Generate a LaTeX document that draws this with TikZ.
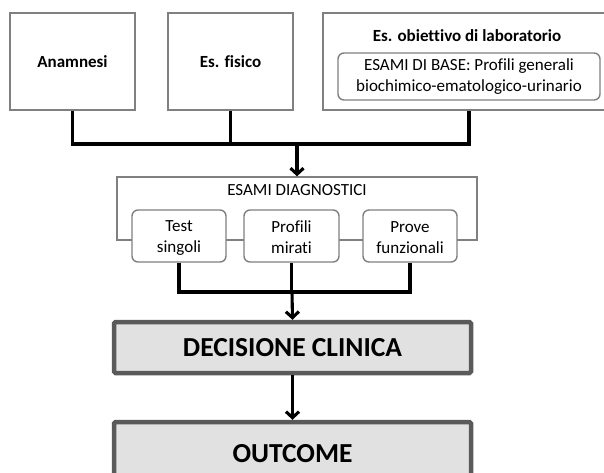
\documentclass[tikz,border=0pt]{standalone}
\usepackage{fontspec}
\setmainfont{Carlito}[Ligatures=NoCommon]
\usetikzlibrary{arrows.meta}
\definecolor{boxgray}{HTML}{808080}
\definecolor{decfill}{HTML}{E1E1E1}
\definecolor{decdraw}{HTML}{5A5A5A}
\begin{document}
\begin{tikzpicture}[x=1pt,y=-1pt,
  thinbox/.style={draw=boxgray, line width=1.4pt, fill=white, inner sep=0pt, align=center,
    font=\fontsize{17}{21}\selectfont},
  roundbox/.style={thinbox, rounded corners=6pt},
  bigbox/.style={draw=decdraw, fill=decfill, line width=4.5pt, rounded corners=1.5pt, inner sep=0pt,
    font=\fontsize{27.5}{32}\selectfont\bfseries},
  lbl/.style={inner sep=0pt, font=\fontsize{17}{21}\selectfont},
  conn/.style={line width=3.1pt, black},
  arr/.style={conn, -{Straight Barb[length=6pt,width=13pt]}}
]
\useasboundingbox (0,0) rectangle (604,472);
% top row
\node[thinbox, minimum width=125pt, minimum height=97pt, font=\fontsize{17}{21}\selectfont\bfseries] (anam) at (72.5,61.5) {Anamnesi};
\node[thinbox, minimum width=125pt, minimum height=97pt, font=\fontsize{17}{21}\selectfont\bfseries] (fis) at (230.5,61.5) {Es. fisico};
\node[thinbox, minimum width=285pt, minimum height=97pt] (lab) at (465.5,61.5) {};
\node[lbl, font=\fontsize{17}{21}\selectfont\bfseries] (labt) at (467,36) {Es. obiettivo di laboratorio};
\node[roundbox, minimum width=262pt, minimum height=47pt] (base) at (469,76.5) {ESAMI DI BASE: Profili generali\\biochimico-ematologico-urinario};
% middle
\coordinate (J) at (297,144);
\node[draw=boxgray, line width=1.4pt, minimum width=360pt, minimum height=63pt, inner sep=0pt] (diag) at (297,208.5) {};
\node[lbl] (diagt) at (297,190) {ESAMI DIAGNOSTICI};
\node[roundbox, minimum width=94pt, minimum height=52pt] (t1) at (179,236) {\rule{0pt}{15pt}Test\\singoli};
\node[roundbox, minimum width=95pt, minimum height=52pt] (t2) at (291.5,236) {\rule{0pt}{15pt}Profili\\mirati};
\node[roundbox, minimum width=94pt, minimum height=52pt] (t3) at (410,236) {\rule{0pt}{15pt}Prove\\funzionali};
\coordinate (J2) at (292,292);
% bottom
\node[bigbox, minimum width=357pt, minimum height=51pt] (dec) at (292.5,347.5) {DECISIONE CLINICA};
\node[bigbox, minimum width=357pt, minimum height=64pt] (out) at (292.5,454) {OUTCOME};
% connectors
\draw[conn] (anam.south) |- (J) -| (base.south |- lab.south);
\draw[conn] (fis.south) -- (fis.south |- J);
\draw[arr] (J) -- (diag.north);
\draw[conn] (t1.south) |- (J2) -| (t3.south);
\draw[conn] (t2.south) -- (t2.south |- J2);
\draw[arr] (J2) -- (dec.north);
\draw[arr] (dec.south) -- (out.north);
\end{tikzpicture}
\end{document}
